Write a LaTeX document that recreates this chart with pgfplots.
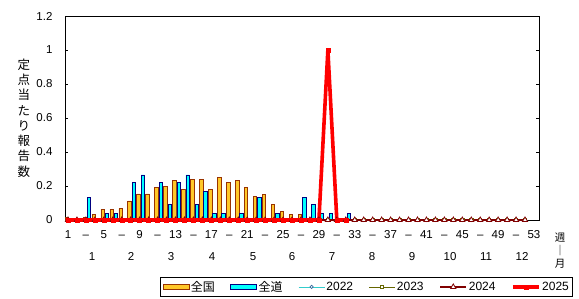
\documentclass[border=0pt]{standalone}
\usepackage{fontspec}
\setmainfont{Liberation Sans}
\newfontfamily\cjk{Noto Sans CJK JP}
\usepackage{pgfplots}
\usepackage{pgfplotstable}
\pgfplotsset{compat=1.18}
\definecolor{natF}{HTML}{FFC829}
\definecolor{natD}{HTML}{993300}
\definecolor{hokF}{HTML}{00FFFF}
\definecolor{hokD}{HTML}{000080}
\definecolor{c22}{HTML}{33CCCC}
\definecolor{c22m}{HTML}{336699}
\definecolor{c23}{HTML}{666600}
\definecolor{c24}{HTML}{800000}
\definecolor{c25}{HTML}{FF0000}
\pgfplotsset{
  barlegend/.style={legend image code/.code={\draw[##1] (0bp,-2.8bp) rectangle (26bp,2.8bp);}},
  linelegend/.style={legend image code/.code={\draw[mark repeat=2,mark phase=2,##1] plot coordinates {(0bp,0bp) (13bp,0bp) (26bp,0bp)};}},
}

% current season: week, national, Hokkaido, 2025
\pgfplotstableread{
w nat hok y25
1 0.015 0 0
2 0 0 0
3 0.015 0.134 0
4 0.034 0 0
5 0.063 0.040 0
6 0.063 0.040 0
7 0.069 0 0
8 0.112 0.222 0
9 0.153 0.265 0
10 0.153 0 0
11 0.192 0.222 0
12 0.196 0.092 0
13 0.234 0.222 0
14 0.182 0.265 0
15 0.239 0.092 0
16 0.239 0.169 0
17 0.180 0.040 0
18 0.251 0.040 0
19 0.222 0 0
20 0.233 0.040 0
21 0.192 0 0
22 0.138 0.134 0
23 0.152 0 0
24 0.092 0.040 0
25 0.051 0 0
26 0.034 0 0
27 0.034 0.134 0
28 0 0.093 0
29 0 0.040 0
30 0 0.040 1.0
31 0 0 0
32 0 0.040 0
}\cur

% past seasons
\pgfplotstableread{
w y22 y23 y24
1 0 0 0
2 0 0 0
3 0 0 0
4 0 0 0
5 0 0 0
6 0 0 0
7 0 0 0
8 0 0 0
9 0 0 0
10 0 0 0
11 0 0 0
12 0 0 0
13 0 0 0
14 0 0 0
15 0 0 0
16 0 0 0
17 0 0 0
18 0 0 0
19 0 0 0
20 0 0 0
21 0 0 0
22 0 0 0
23 0 0 0
24 0 0 0
25 0 0 0
26 0 0 0
27 0 0 0
28 0 0 0
29 0 0 0
30 0 0 0
31 0 0 0
32 0 0 0
33 0 0 0
34 0 0 0
35 0 0 0
36 0 0 0
37 0 0 0
38 0 0 0
39 0 0 0
40 0 0 0
41 0 0 0
42 0 0 0
43 0 0 0
44 0 0 0
45 0 0 0
46 0 0 0
47 0 0 0
48 0 0 0
49 0 0 0
50 0 0 0
51 0 0 0
52 0 0 0
}\past

\begin{document}
\begin{tikzpicture}
\begin{axis}[
  name=ax,
  scale only axis,
  width=474bp, height=204bp,
  xmin=0.665, xmax=53.56,
  ymin=0, ymax=1.2,
  clip=false,
  axis line style={line width=0.8bp},
  tick align=inside,
  major tick length=3bp,
  tick style={line width=0.8bp, black},
  ytick={0,0.2,0.4,0.6,0.8,1,1.2},
  yticklabels={0,0.2,0.4,0.6,0.8,1,1.2},
  xtick={1,3,...,53},
  xticklabels={1,\textendash,5,\textendash,9,\textendash,13,\textendash,17,\textendash,21,\textendash,25,\textendash,29,\textendash,33,\textendash,37,\textendash,41,\textendash,45,\textendash,49,\textendash,53},
  x tick style={draw=none},
  xticklabel style={yshift=-7bp, text height=8bp, text depth=0bp},
  yticklabel style={xshift=-9bp},
  extra x ticks={3.68,8.03,12.5,17.07,21.65,26.0,30.46,34.93,39.39,43.63,47.65,51.67},
  extra x tick labels={1,2,3,4,5,6,7,8,9,10,11,12},
  extra x tick style={tick label style={yshift=-21.5bp}},
  tick label style={font=\fontsize{11.5bp}{13bp}\selectfont},
  legend columns=6,
  legend style={at={(axis description cs:0.636,-0.328)}, anchor=center,
    draw=black, line width=0.8bp, inner sep=2bp,
    font=\fontsize{12bp}{14bp}\selectfont,
    /tikz/every even column/.append style={column sep=14bp},
    nodes={inner sep=1.5bp}},
  linelegend,
]
\addplot[ybar, bar width=3.5bp, bar shift=-1.1bp, fill=natF, draw=natD, line width=0.8bp, barlegend]
  table[x=w,y=nat]{\cur};
\addlegendentry{\cjk 全国}
\addplot[ybar, bar width=3.5bp, bar shift=3.2bp, fill=hokF, draw=hokD, line width=0.8bp, barlegend]
  table[x=w,y=hok]{\cur};
\addlegendentry{\cjk 全道}
\addplot[sharp plot, color=c22, line width=0.8bp, mark=*, mark size=1.6bp,
  mark options={fill=white, draw=c22m, line width=0.7bp}]
  table[x=w,y=y22]{\past};
\addlegendentry{2022}
\addplot[sharp plot, color=c23, line width=0.8bp, mark=square*, mark size=1.6bp,
  mark options={fill=white, draw=c23, line width=0.7bp}]
  table[x=w,y=y23]{\past};
\addlegendentry{2023}
\addplot[sharp plot, color=c24, line width=2.2bp, mark=triangle*, mark size=3bp,
  mark options={fill=white, draw=c24, line width=0.8bp}]
  table[x=w,y=y24]{\past};
\addlegendentry{2024}
\addplot[sharp plot, color=c25, line width=3.6bp, mark=square*, mark size=2bp,
  mark options={fill=c25, draw=c25, line width=0.5bp}]
  table[x=w,y=y25]{\cur};
\addlegendentry{2025}
\end{axis}
\node[font=\cjk\fontsize{12.5bp}{15.3bp}\selectfont, align=center] at ([xshift=-41bp]ax.west)
  {定\\点\\当\\た\\り\\報\\告\\数};
\node[font=\cjk\fontsize{10.5bp}{13bp}\selectfont, align=center] at ([xshift=21bp,yshift=-31bp]ax.south east)
  {週\\｜\\月};
\pgfresetboundingbox
\path[use as bounding box] ([shift={(-65bp,-79bp)}]ax.south west) rectangle ([shift={(40bp,16bp)}]ax.north east);
\end{tikzpicture}
\end{document}
